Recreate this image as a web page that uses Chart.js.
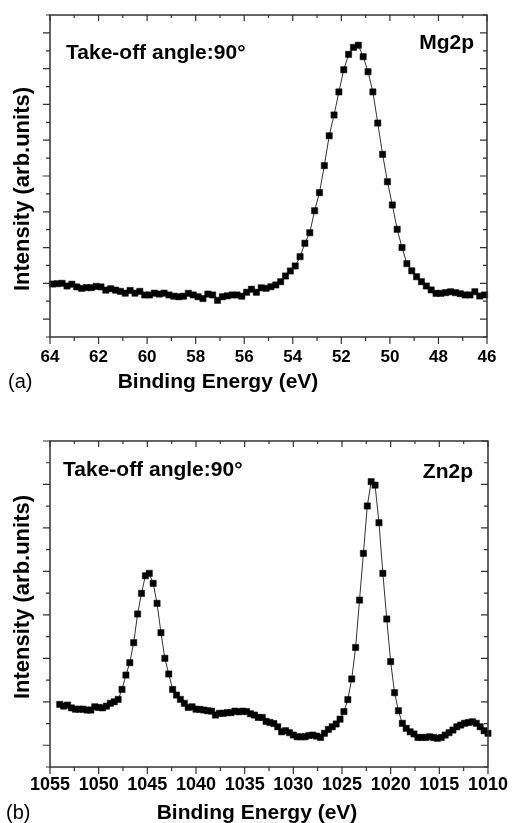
<!DOCTYPE html>
<html>
<head>
<meta charset="utf-8">
<script src="https://cdn.jsdelivr.net/npm/chart.js@4.4.0/dist/chart.umd.min.js"></script>
<style>
  html, body { margin: 0; padding: 0; background: #fff; }
  .panel { position: absolute; left: 0; width: 515px; }
  #mgPanel { top: 0; height: 400px; }
  #znPanel { top: 400px; height: 423px; }
</style>
</head>
<body>
<div class="panel" id="mgPanel"><canvas id="mgChart"></canvas></div>
<div class="panel" id="znPanel"><canvas id="znChart"></canvas></div>
<script>
// (a) Mg2p spectrum, binding energy in eV and intensity in arbitrary units
var mgEnergy = [
  63.9, 63.7, 63.5, 63.3, 63.1, 62.9, 62.7, 62.5, 62.3, 62.1,
  61.9, 61.7, 61.5, 61.3, 61.1, 60.9, 60.7, 60.5, 60.3, 60.1,
  59.9, 59.7, 59.5, 59.3, 59.1, 58.9, 58.7, 58.5, 58.3, 58.1,
  57.9, 57.7, 57.5, 57.3, 57.1, 56.9, 56.7, 56.5, 56.3, 56.1,
  55.9, 55.7, 55.5, 55.3, 55.1, 54.9, 54.7, 54.5, 54.3, 54.1,
  53.9, 53.7, 53.5, 53.3, 53.1, 52.9, 52.7, 52.5, 52.3, 52.1,
  51.9, 51.7, 51.5, 51.3, 51.1, 50.9, 50.7, 50.5, 50.3, 50.1,
  49.9, 49.7, 49.5, 49.3, 49.1, 48.9, 48.7, 48.5, 48.3, 48.1,
  47.9, 47.7, 47.5, 47.3, 47.1, 46.9, 46.7, 46.5, 46.3, 46.1
];
var mgIntensity = [
  1.96, 1.98, 2.00, 1.85, 1.95, 1.80, 1.72, 1.76, 1.76, 1.83,
  1.80, 1.62, 1.70, 1.62, 1.55, 1.45, 1.60, 1.45, 1.55, 1.35,
  1.35, 1.45, 1.40, 1.45, 1.35, 1.28, 1.25, 1.28, 1.44, 1.35,
  1.25, 1.15, 1.40, 1.35, 1.05, 1.25, 1.30, 1.35, 1.35, 1.28,
  1.50, 1.67, 1.50, 1.75, 1.72, 1.81, 1.91, 2.09, 2.41, 2.69,
  2.97, 3.49, 4.24, 4.83, 6.06, 7.07, 8.58, 10.25, 11.41, 12.70,
  13.94, 14.80, 15.19, 15.31, 14.67, 13.83, 12.70, 10.96, 9.21, 7.68,
  6.38, 5.02, 4.00, 3.10, 2.70, 2.37, 2.09, 1.85, 1.63, 1.44,
  1.44, 1.48, 1.53, 1.48, 1.42, 1.35, 1.35, 1.53, 1.29, 1.35
];

// (b) Zn2p spectrum
var znEnergy = [
  1054.0, 1053.6, 1053.2, 1052.8, 1052.4, 1052.0, 1051.6, 1051.2, 1050.8, 1050.4,
  1050.0, 1049.6, 1049.2, 1048.8, 1048.4, 1048.0, 1047.6, 1047.2, 1046.8, 1046.4,
  1046.0, 1045.6, 1045.2, 1044.8, 1044.4, 1044.0, 1043.6, 1043.2, 1042.8, 1042.4,
  1042.0, 1041.6, 1041.2, 1040.8, 1040.4, 1040.0, 1039.6, 1039.2, 1038.8, 1038.4,
  1038.0, 1037.6, 1037.2, 1036.8, 1036.4, 1036.0, 1035.6, 1035.2, 1034.8, 1034.4,
  1034.0, 1033.6, 1033.2, 1032.8, 1032.4, 1032.0, 1031.6, 1031.2, 1030.8, 1030.4,
  1030.0, 1029.6, 1029.2, 1028.8, 1028.4, 1028.0, 1027.6, 1027.2, 1026.8, 1026.4,
  1026.0, 1025.6, 1025.2, 1024.8, 1024.4, 1024.0, 1023.6, 1023.2, 1022.8, 1022.4,
  1022.0, 1021.6, 1021.2, 1020.8, 1020.4, 1020.0, 1019.6, 1019.2, 1018.8, 1018.4,
  1018.0, 1017.6, 1017.2, 1016.8, 1016.4, 1016.0, 1015.6, 1015.2, 1014.8, 1014.4,
  1014.0, 1013.6, 1013.2, 1012.8, 1012.4, 1012.0, 1011.6, 1011.2, 1010.8, 1010.4,
  1010.0
];
var znIntensity = [
  1.88, 1.80, 1.85, 1.72, 1.66, 1.66, 1.66, 1.62, 1.62, 1.77,
  1.74, 1.72, 1.80, 1.93, 2.00, 2.11, 2.57, 3.23, 3.80, 4.72,
  6.04, 6.99, 7.80, 7.91, 7.45, 6.53, 5.18, 4.00, 3.28, 2.57,
  2.31, 2.11, 1.93, 1.74, 1.77, 1.66, 1.65, 1.62, 1.59, 1.57,
  1.39, 1.47, 1.47, 1.50, 1.50, 1.57, 1.54, 1.57, 1.55, 1.45,
  1.39, 1.28, 1.28, 1.10, 1.05, 1.00, 0.85, 0.62, 0.67, 0.58,
  0.47, 0.39, 0.39, 0.39, 0.45, 0.47, 0.42, 0.36, 0.55, 0.73,
  0.85, 0.98, 1.20, 1.55, 2.10, 3.05, 4.50, 6.68, 8.83, 11.01,
  12.13, 11.97, 10.24, 7.91, 5.81, 3.85, 2.42, 1.59, 1.01, 0.78,
  0.62, 0.52, 0.36, 0.36, 0.36, 0.39, 0.36, 0.32, 0.36, 0.47,
  0.58, 0.70, 0.85, 0.93, 1.01, 1.05, 1.08, 1.01, 0.85, 0.67,
  0.55
];

var FONT = "'Liberation Sans', Arial, Helvetica, sans-serif";

// box around the plot, Origin style ticks (out on bottom/left, in on top/right) and the free texts
var framePlugin = {
  id: 'frame',
  afterDatasetsDraw: function (chart, args, opts) {
    var ctx = chart.ctx;
    var a = chart.chartArea;
    var xs = chart.scales.x, ys = chart.scales.y;
    ctx.save();
    ctx.strokeStyle = '#333';
    ctx.lineWidth = 1.2;
    ctx.beginPath();
    xs.ticks.forEach(function (t) {
      var px = xs.getPixelForValue(t.value);
      var major = t.value % opts.xMajor === 0;
      ctx.moveTo(px, a.bottom);
      ctx.lineTo(px, a.bottom + (major ? 7 : 4));
      ctx.moveTo(px, a.top);
      ctx.lineTo(px, a.top + (major ? 6 : 3));
    });
    for (var v = ys.min; v <= ys.max; v++) {
      var py = ys.getPixelForValue(v);
      var maj = v % 2 === 0;
      ctx.moveTo(a.left, py);
      ctx.lineTo(a.left - (maj ? 7 : 4), py);
      ctx.moveTo(a.right, py);
      ctx.lineTo(a.right - (maj ? 7 : 4), py);
    }
    ctx.stroke();
    ctx.lineWidth = 1.5;
    ctx.strokeRect(a.left, a.top, a.right - a.left, a.bottom - a.top);

    ctx.fillStyle = '#000';
    ctx.textBaseline = 'middle';
    opts.texts.forEach(function (t) {
      ctx.save();
      ctx.font = t.font + ' ' + FONT;
      ctx.textAlign = t.align || 'left';
      ctx.translate(t.x, t.y);
      if (t.rotate) ctx.rotate(-Math.PI / 2);
      ctx.fillText(t.text, 0, 0);
      ctx.restore();
    });
    ctx.restore();
  }
};

function makeChart(id, energy, intensity, cfg) {
  var points = energy.map(function (e, i) { return { x: e, y: intensity[i] }; });
  return new Chart(document.getElementById(id), {
    type: 'line',
    data: {
      datasets: [{
        data: points,
        borderColor: '#333',
        borderWidth: 1,
        backgroundColor: '#000',
        pointStyle: 'rect',
        pointRadius: 4.4,
        pointBorderWidth: 0.5,
        pointBorderColor: '#000',
        pointBackgroundColor: '#000',
        tension: 0,
        clip: 4
      }]
    },
    options: {
      responsive: true,
      maintainAspectRatio: false,
      animation: false,
      layout: { padding: cfg.padding },
      plugins: {
        legend: { display: false },
        tooltip: { enabled: false },
        frame: { xMajor: cfg.xMajor, texts: cfg.texts }
      },
      scales: {
        x: {
          type: 'linear',
          reverse: true,
          min: cfg.xMin,
          max: cfg.xMax,
          afterFit: function (s) { s.height = cfg.axisHeight; },
          grid: { display: false, drawTicks: false },
          border: { display: false },
          ticks: {
            stepSize: cfg.xStep,
            autoSkip: false,
            maxRotation: 0,
            padding: cfg.tickPad,
            color: '#000',
            font: { family: FONT, size: cfg.tickSize, weight: 'bold' },
            callback: function (v) { return v % cfg.xMajor === 0 ? String(v) : ''; }
          }
        },
        y: {
          display: false,
          min: cfg.yMin,
          max: cfg.yMax
        }
      }
    },
    plugins: [framePlugin]
  });
}

makeChart('mgChart', mgEnergy, mgIntensity, {
  padding: { left: 50, right: 28, top: 15, bottom: 0 },
  axisHeight: 63, xMin: 46, xMax: 64, xStep: 1, xMajor: 2,
  yMin: -1, yMax: 17, tickSize: 17, tickPad: 10,
  texts: [
    { text: 'Take-off angle:90°', x: 66, y: 53, font: 'bold 21px' },
    { text: 'Mg2p', x: 474, y: 43, font: 'bold 21px', align: 'right' },
    { text: 'Binding Energy (eV)', x: 218, y: 382, font: 'bold 21px', align: 'center' },
    { text: '(a)', x: 8, y: 382, font: '20px' },
    { text: 'Intensity (arb.units)', x: 23, y: 189, font: 'bold 22px', align: 'center', rotate: true }
  ]
});

makeChart('znChart', znEnergy, znIntensity, {
  padding: { left: 50, right: 23, top: 41, bottom: 0 },
  axisHeight: 56, xMin: 1010, xMax: 1055, xStep: 2.5, xMajor: 5,
  yMin: -1, yMax: 14, tickSize: 18, tickPad: 7,
  texts: [
    { text: 'Take-off angle:90°', x: 63, y: 70, font: 'bold 21px' },
    { text: 'Zn2p', x: 473, y: 72, font: 'bold 21px', align: 'right' },
    { text: 'Binding Energy (eV)', x: 257, y: 413, font: 'bold 21px', align: 'center' },
    { text: '(b)', x: 6, y: 413, font: '20px' },
    { text: 'Intensity (arb.units)', x: 23, y: 197, font: 'bold 22px', align: 'center', rotate: true }
  ]
});
</script>
</body>
</html>
